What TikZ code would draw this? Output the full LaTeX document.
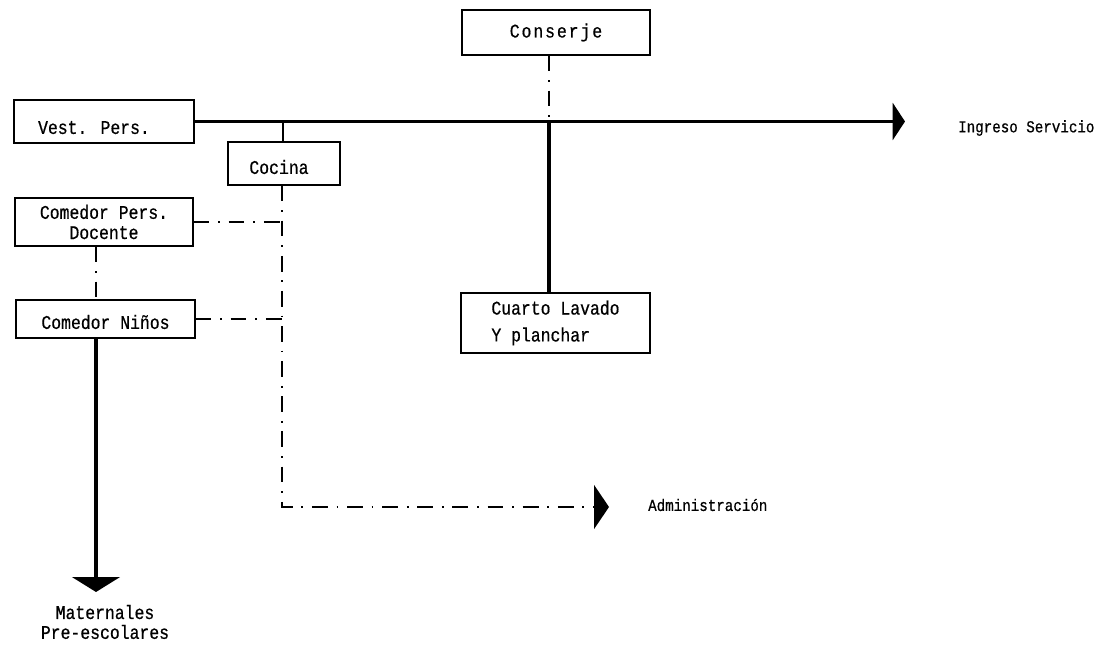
\documentclass[tikz,border=0pt]{standalone}
\usepackage{fontspec}
\usetikzlibrary{arrows.meta}
\newfontfamily\tw[FakeStretch=0.85, FakeBold=0.6]{Liberation Mono}

\begin{document}
\begin{tikzpicture}[x=0.02cm, y=-0.02cm,
  room/.style={draw, line width=0.6pt, inner sep=0pt, align=center,
    font=\tw\fontsize{11}{11.5}\selectfont},
  heavy/.style={line width=2pt},
  light/.style={line width=0.8pt},
  dotdash/.style={line width=0.8pt, dash pattern=on 9pt off 5pt on 1pt off 5pt},
  outlabel/.style={font=\tw\fontsize{9.5}{11.3}\selectfont}]

\useasboundingbox (0,0) rectangle (1100,645);

% Draw the rooms
\node[room, minimum width=3.76cm, minimum height=0.9cm,
  font=\tw\fontsize{11}{11.5}\selectfont\addfontfeature{LetterSpace=10}]
  (conserje) at (556,32.5) {Conserje};
\node[room, minimum width=3.6cm, minimum height=0.86cm, text height=0.5cm] (vest) at (104,121.5) {Vest. Pers.\hspace{0.4cm}};
\node[room, minimum width=2.24cm, minimum height=0.86cm, text height=0.42cm] (cocina) at (284,163.5) {Cocina\hspace{0.2cm}};
\node[room, minimum width=3.56cm, minimum height=0.96cm] (docente) at (104,222) {Comedor Pers.\\Docente};
\node[room, minimum width=3.58cm, minimum height=0.76cm, text height=0.4cm] (ninos) at (105.5,319) {Comedor Niños};
\node[room, minimum width=3.78cm, minimum height=1.2cm, align=left,
  font=\tw\fontsize{11}{15.3}\selectfont] (lavado) at (555.5,323) {Cuarto Lavado\\Y planchar};

% Junctions and arrow ends
\coordinate (cj) at (283,121.5);
\coordinate (lj) at (549,121.5);
\coordinate (ingtip) at (905,121.5);
\coordinate (ac) at (282,507);
\coordinate (admtip) at (609,507);
\coordinate (mattip) at (96,592);

% Add the outside labels
\node[outlabel, anchor=west] (ingreso) at (952,128) {Ingreso Servicio};
\node[outlabel, anchor=west] (admin) at (642,505) {Administración};
\node[outlabel, align=center, font=\tw\fontsize{11}{11.3}\selectfont] (maternales) at (105,622) {Maternales\\Pre-escolares};

% Draw the service line
\draw[heavy, -{Triangle[length=7pt, width=21pt]}] (vest.east) -- (ingtip);
\draw[light] (cj) -- (cocina.north -| cj);
\draw[heavy] (lj) -- (lavado.north -| lj);
\draw[dotdash] (conserje.south -| lj) -- (lj);

% Draw the kitchen links
\draw[dotdash, -{Triangle[length=8.5pt, width=25pt]}] (cocina.south -| ac) -- (ac) -- (admtip);
\draw[dotdash] (docente.east) -- (docente.east -| ac);
\draw[dotdash] (ninos.east) -- (ninos.east -| ac);
\draw[dotdash] (docente.south -| mattip) -- (ninos.north -| mattip);

% Draw the way down
\draw[heavy, -{Triangle[length=8.5pt, width=27pt]}] (ninos.south -| mattip) -- (mattip);

\end{tikzpicture}
\end{document}
